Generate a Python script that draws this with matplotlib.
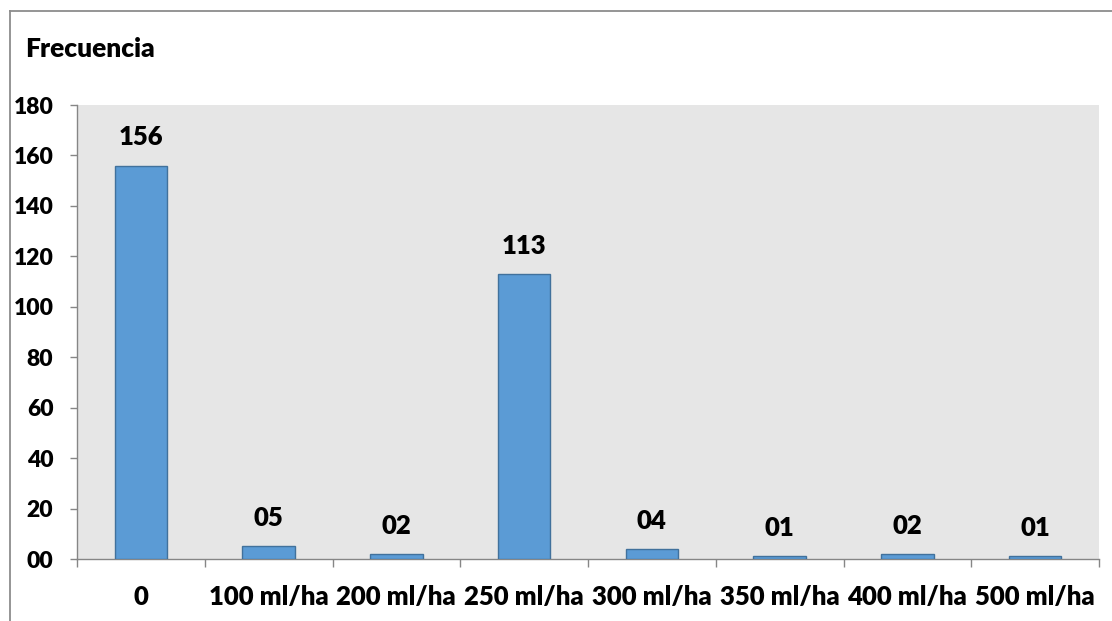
import matplotlib
matplotlib.use("Agg")
import matplotlib.pyplot as plt
from matplotlib.lines import Line2D
from matplotlib.ticker import FixedLocator, NullFormatter

categories = ["0", "100 ml/ha", "200 ml/ha", "250 ml/ha",
              "300 ml/ha", "350 ml/ha", "400 ml/ha", "500 ml/ha"]
frecuencia = [156, 5, 2, 113, 4, 1, 2, 1]
y_ticks = [0, 20, 40, 60, 80, 100, 120, 140, 160, 180]
title_text = "Frecuencia"

plt.rcParams["font.family"] = ["Lato", "DejaVu Sans"]
plt.rcParams["font.weight"] = "heavy"
W = "heavy"

fig = plt.figure(figsize=(11.12, 6.21), dpi=100)
ax = fig.add_axes([77 / 1112, 1 - 559 / 621, (1099 - 77) / 1112, (559 - 105) / 621])
ax.set_facecolor("#E6E6E6")

x = list(range(len(categories)))
ax.bar(x, frecuencia, width=0.41, color="#5B9BD5", edgecolor="#41719C",
       linewidth=1.0, zorder=3)

for xi, v in zip(x, frecuencia):
    ax.annotate(f"{v:02d}", (xi, v), xytext=(0, 14.5), textcoords="offset points",
                ha="center", va="baseline", fontsize=18.5, fontweight=W,
                color="#000000")

ax.set_xlim(-0.5, len(categories) - 0.5)
ax.set_ylim(0, 180)
ax.set_yticks(y_ticks)
ax.set_yticklabels([f"{t:02d}" for t in y_ticks], fontweight=W)

# category boundaries carry the tick marks, centers carry the labels
ax.xaxis.set_major_locator(FixedLocator([i - 0.5 for i in range(len(categories) + 1)]))
ax.xaxis.set_major_formatter(NullFormatter())
ax.xaxis.set_minor_locator(FixedLocator(x))
ax.set_xticklabels(categories, minor=True, fontweight=W)
ax.tick_params(axis="x", which="major", length=6, color="#868686", width=1)
ax.tick_params(axis="x", which="minor", length=0, pad=18.5, labelsize=18.5)
ax.tick_params(axis="y", length=5, color="#868686", width=1, pad=12, labelsize=16.5)

for side in ("top", "right"):
    ax.spines[side].set_visible(False)
for side in ("left", "bottom"):
    ax.spines[side].set_color("#868686")
    ax.spines[side].set_linewidth(1)

fig.text(25 / 1112, 1 - 57 / 621, title_text, ha="left", va="baseline",
         fontsize=19, fontweight=W)

# chart frame (top and left edges)
fig.add_artist(Line2D([10 / 1112, 1.0], [1 - 11 / 621, 1 - 11 / 621],
                      transform=fig.transFigure, color="#8C8C8C", linewidth=1.3))
fig.add_artist(Line2D([10 / 1112, 10 / 1112], [1 - 11 / 621, 0.0],
                      transform=fig.transFigure, color="#8C8C8C", linewidth=1.3))

fig.savefig("out.png", dpi=100)
